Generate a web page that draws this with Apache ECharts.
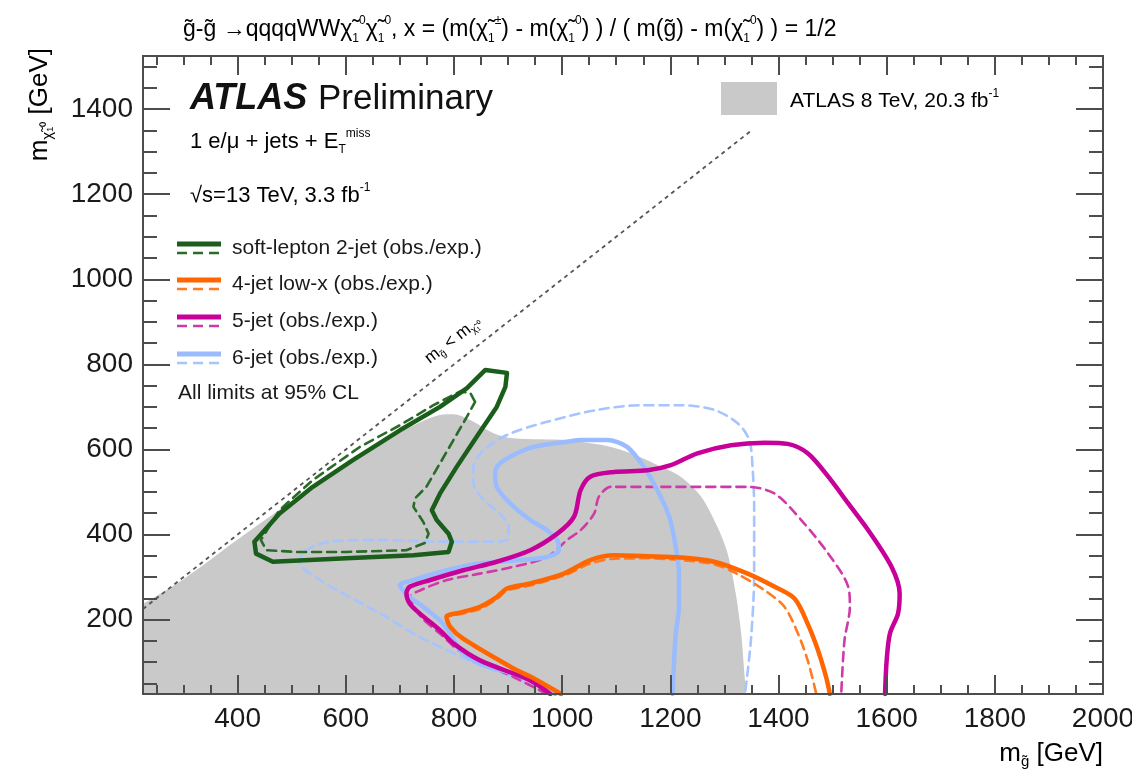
<!DOCTYPE html>
<html><head><meta charset="utf-8">
<script src="https://cdn.jsdelivr.net/npm/echarts@6/dist/echarts.min.js"></script>
<style>html,body{margin:0;padding:0;background:#fff}#c{width:1132px;height:774px}</style>
</head><body><div id="c"></div>
<script>
// ---------- axis ranges and ticks ----------
const xRange = [225, 2000];
const yRange = [25, 1525];
const xMajorTicks = [400, 600, 800, 1000, 1200, 1400, 1600, 1800, 2000];
const yMajorTicks = [200, 400, 600, 800, 1000, 1200, 1400];
const xMinorTicks = [250, 300, 350, 450, 500, 550, 650, 700, 750, 850, 900, 950, 1050, 1100, 1150,
  1250, 1300, 1350, 1450, 1500, 1550, 1650, 1700, 1750, 1850, 1900, 1950];
const yMinorTicks = [50, 100, 150, 250, 300, 350, 450, 500, 550, 650, 700, 750, 850, 900, 950,
  1050, 1100, 1150, 1250, 1300, 1350, 1450, 1500];

// ---------- data (m_gluino, m_neutralino) in GeV ----------
const kinematicLine = [[225, 225], [1350, 1350]];
const atlas8Boundary = [[225, 237], [300, 295], [400, 388], [500, 478], [600, 563], [700, 640], [774, 681],
  [799, 683], [830, 669], [873, 638], [910, 626], [1009, 622], [1034, 618], [1083, 608], [1127, 591],
  [1170, 567], [1219, 536], [1257, 489], [1287, 418], [1306, 355], [1321, 261], [1331, 167], [1337, 73], [1340, 25]];
const greenObs = [[431, 383], [477, 449], [539, 512], [613, 575], [700, 645], [774, 700], [824, 744], [858, 787],
  [898, 780], [895, 747], [879, 700], [842, 630], [805, 559], [774, 496], [759, 457], [768, 434], [790, 402],
  [796, 383], [790, 359], [725, 351], [601, 344], [465, 336], [434, 355], [431, 383]];
const greenExp = [[839, 712], [830, 733], [811, 736], [762, 704], [700, 657], [626, 606], [539, 528], [477, 457],
  [443, 387], [453, 363], [508, 359], [601, 359], [712, 363], [746, 380], [753, 402], [743, 430], [725, 465],
  [728, 485], [749, 512], [774, 567], [799, 622], [824, 677], [839, 712]];
const orangeObs = [[998, 25], [941, 66], [910, 85], [817, 155], [793, 183], [786, 206], [817, 218], [848, 230],
  [879, 253], [898, 273], [941, 285], [1003, 308], [1052, 340], [1096, 351], [1158, 349], [1219, 346],
  [1281, 336], [1343, 308], [1393, 277], [1430, 249], [1454, 190], [1473, 128], [1488, 65], [1495, 25]];
const orangeExp = [[995, 25], [941, 63], [910, 83], [817, 153], [793, 182], [786, 204], [817, 214], [848, 225],
  [879, 248], [898, 268], [941, 280], [1009, 306], [1052, 332], [1096, 343], [1158, 344], [1219, 340],
  [1281, 330], [1320, 310], [1374, 269], [1411, 230], [1436, 167], [1454, 104], [1470, 25]];
const magentaObs = [[978, 25], [941, 57], [848, 104], [799, 144], [774, 175], [737, 214], [718, 238], [712, 261],
  [718, 277], [756, 293], [817, 316], [879, 336], [941, 363], [991, 402], [1022, 442], [1034, 504], [1052, 536],
  [1096, 547], [1158, 551], [1201, 563], [1250, 591], [1312, 610], [1374, 616], [1417, 613], [1454, 591],
  [1492, 536], [1529, 473], [1566, 410], [1609, 324], [1624, 261], [1621, 214], [1606, 167], [1600, 104], [1597, 25]];
const magentaExp = [[972, 25], [910, 65], [817, 120], [774, 167], [740, 205], [722, 240], [718, 253], [740, 270],
  [787, 293], [848, 308], [910, 324], [972, 347], [1009, 387], [1034, 410], [1059, 449], [1068, 489], [1090, 512],
  [1158, 512], [1250, 512], [1343, 512], [1393, 496], [1442, 434], [1492, 355], [1529, 277], [1532, 230],
  [1522, 151], [1516, 25]];
const blueObs = [[987, 25], [929, 65], [848, 96], [811, 128], [793, 167], [774, 198], [743, 230], [718, 253],
  [703, 273], [700, 281], [725, 293], [787, 316], [848, 332], [923, 340], [972, 347], [994, 363], [991, 387],
  [972, 410], [941, 434], [904, 473], [879, 512], [876, 544], [885, 567], [910, 587], [947, 606], [1009, 618],
  [1034, 622], [1083, 622], [1120, 606], [1151, 559], [1176, 504], [1198, 442], [1210, 371], [1216, 308],
  [1216, 230], [1210, 167], [1207, 104], [1204, 25]];
const blueExp = [[980, 25], [960, 42], [910, 65], [848, 93], [787, 128], [725, 167], [675, 206], [613, 249],
  [552, 293], [514, 336], [527, 363], [570, 383], [663, 387], [787, 383], [873, 383], [901, 391], [901, 418],
  [885, 449], [855, 481], [836, 520], [836, 559], [855, 598], [898, 634], [972, 665], [1065, 693], [1145, 704],
  [1219, 704], [1281, 693], [1325, 661], [1346, 622], [1352, 559], [1355, 465], [1355, 308], [1349, 151], [1338, 25]];

// ---------- styling ----------
const FONT = '"Liberation Sans", Arial, Helvetica, sans-serif';
const FRAME = '#4d4d4d';
const TXT = '#1a1a1a';
const C = {
  green: '#1b5e1b', greenD: '#2a6b2a',
  orange: '#ff6600', orangeD: '#ff7a22',
  magenta: '#c8009a', magentaD: '#d03aa8',
  blue: '#9abcff', blueD: '#a6c4ff',
  gray: '#c9c9c9'
};
const DASH = [9, 6];
const plain = v => String(v);

function xAx(gridIndex, pos, ticks, len, labels) {
  return {
    type: 'value', gridIndex, position: pos, min: xRange[0], max: xRange[1], z: 10,
    axisLine: { show: true, onZero: false, lineStyle: { color: FRAME, width: 2 } },
    axisTick: { show: true, inside: true, length: len, customValues: ticks, lineStyle: { color: FRAME, width: 2 } },
    axisLabel: { show: labels, customValues: xMajorTicks, formatter: plain, color: TXT, fontSize: 28, fontFamily: FONT, margin: 11, showMaxLabel: true, showMinLabel: true },
    splitLine: { show: false }, minorTick: { show: false }, axisPointer: { show: false }
  };
}
function yAx(gridIndex, pos, ticks, len, labels) {
  return {
    type: 'value', gridIndex, position: pos, min: yRange[0], max: yRange[1], z: 10,
    axisLine: { show: true, onZero: false, lineStyle: { color: FRAME, width: 2 } },
    axisTick: { show: true, inside: true, length: len, customValues: ticks, lineStyle: { color: FRAME, width: 2 } },
    axisLabel: { show: labels, customValues: yMajorTicks, formatter: plain, color: TXT, fontSize: 28, fontFamily: FONT, margin: 10 },
    splitLine: { show: false }, minorTick: { show: false }, axisPointer: { show: false }
  };
}

function contour(name, data, color, dashed, smooth) {
  return {
    name, type: 'line', data, xAxisIndex: 0, yAxisIndex: 0, symbol: 'none', showSymbol: false,
    smooth: smooth, clip: true, z: dashed ? 3 : 4, silent: true,
    lineStyle: { color, width: dashed ? 2.6 : 4.5, type: dashed ? DASH : 'solid', cap: 'round', join: 'round' }
  };
}

const chart = echarts.init(document.getElementById('c'), null, { renderer: 'canvas' });

const gridBox = { left: 143, right: 29, top: 56, bottom: 80, outerBoundsMode: 'none', containLabel: false };

const legendRows = [
  { label: 'soft-lepton 2-jet (obs./exp.)', solid: C.green, dash: C.greenD, y: 248 },
  { label: '4-jet low-x (obs./exp.)', solid: C.orange, dash: C.orangeD, y: 284 },
  { label: '5-jet (obs./exp.)', solid: C.magenta, dash: C.magentaD, y: 321 },
  { label: '6-jet (obs./exp.)', solid: C.blue, dash: C.blueD, y: 358 }
];
const graphics = [];
legendRows.forEach(r => {
  graphics.push({ type: 'line', z: 20, shape: { x1: 177, y1: r.y - 4, x2: 221, y2: r.y - 4 }, style: { stroke: r.solid, lineWidth: 5 } });
  graphics.push({ type: 'line', z: 20, shape: { x1: 177, y1: r.y + 5, x2: 221, y2: r.y + 5 }, style: { stroke: r.dash, lineWidth: 2.5, lineDash: [10, 6] } });
  graphics.push({ type: 'text', z: 20, x: 232, y: r.y, style: { text: r.label, font: '21px ' + FONT, fill: TXT, align: 'left', verticalAlign: 'middle' } });
});
graphics.push({ type: 'text', z: 20, x: 178, y: 393, style: { text: 'All limits at 95% CL', font: '21px ' + FONT, fill: TXT, align: 'left', verticalAlign: 'middle' } });

// ATLAS label
graphics.push({ type: 'text', z: 20, x: 190, y: 99, style: { text: 'ATLAS', font: 'italic bold 36px ' + FONT, fill: '#111', align: 'left', verticalAlign: 'middle' } });
graphics.push({ type: 'text', z: 20, x: 318, y: 99, style: { text: 'Preliminary', font: '35px ' + FONT, fill: '#111', align: 'left', verticalAlign: 'middle' } });
const rich = {
  n: { fontSize: 22, fontFamily: FONT, color: TXT, lineHeight: 28 },
  sb: { fontSize: 12, fontFamily: FONT, color: TXT, lineHeight: 14, verticalAlign: 'bottom' },
  sp: { fontSize: 12, fontFamily: FONT, color: TXT, lineHeight: 14, verticalAlign: 'top' }
};
graphics.push({ type: 'text', z: 20, x: 190, y: 142, style: { text: '{n|1 e/\u03bc + jets + E}{sb|T}{sp|miss}', rich, align: 'left', verticalAlign: 'middle' } });
graphics.push({ type: 'text', z: 20, x: 190, y: 196, style: { text: '{n|\u221As=13 TeV, 3.3 fb}{sp|-1}', rich, align: 'left', verticalAlign: 'middle' } });

// top-right legend
graphics.push({ type: 'rect', z: 20, shape: { x: 721, y: 82, width: 56, height: 33 }, style: { fill: C.gray } });
const rich21 = {
  n: { fontSize: 21, fontFamily: FONT, color: TXT, lineHeight: 26 },
  sp: { fontSize: 12, fontFamily: FONT, color: TXT, lineHeight: 14, verticalAlign: 'top' }
};
graphics.push({ type: 'text', z: 20, x: 790, y: 101, style: { text: '{n|ATLAS 8 TeV, 20.3 fb}{sp|-1}', rich: rich21, align: 'left', verticalAlign: 'middle' } });

// title
const richT = {
  n: { fontSize: 23, fontFamily: FONT, color: TXT, lineHeight: 30 },
  sb: { fontSize: 12, fontFamily: FONT, color: TXT, lineHeight: 14, verticalAlign: 'bottom' },
  sp: { fontSize: 12, fontFamily: FONT, color: TXT, lineHeight: 14, verticalAlign: 'top' }
};
graphics.push({ type: 'text', z: 20, x: 183, y: 30, style: {
  text: '{n|g\u0303-g\u0303 \u2192qqqqWW\u03c7\u0303}{sb|1}{sp|0}{n|\u03c7\u0303}{sb|1}{sp|0}{n|, x = (m(\u03c7\u0303}{sb|1}{sp|\u00b1}{n|) - m(\u03c7\u0303}{sb|1}{sp|0}{n|) ) / ( m(g\u0303) - m(\u03c7\u0303}{sb|1}{sp|0}{n|) ) = 1/2}',
  rich: richT, align: 'left', verticalAlign: 'middle' } });

// axis titles
const richA = {
  n: { fontSize: 26, fontFamily: FONT, color: TXT, lineHeight: 30 },
  sb: { fontSize: 15, fontFamily: FONT, color: TXT, lineHeight: 16, verticalAlign: 'bottom' },
  sp: { fontSize: 11, fontFamily: FONT, color: TXT, lineHeight: 14, verticalAlign: 'top' }
};
graphics.push({ type: 'text', z: 20, x: 1103, y: 754, style: { text: '{n|m}{sb|g\u0303}{n| [GeV]}', rich: richA, align: 'right', verticalAlign: 'middle' } });
graphics.push({ type: 'text', z: 20, x: 40, y: 48, rotation: Math.PI / 2, style: { text: '{n|m}{sb|\u03c7\u0303\u2081\u2070}{n| [GeV]}', rich: richA, align: 'right', verticalAlign: 'middle' } });

// diagonal label
const richD = {
  n: { fontSize: 17, fontFamily: FONT, color: '#444', lineHeight: 20 },
  sb: { fontSize: 10, fontFamily: FONT, color: '#444', lineHeight: 11, verticalAlign: 'bottom' }
};
graphics.push({ type: 'text', z: 20, x: 453, y: 340, rotation: 0.66, style: { text: '{n|m}{sb|g\u0303}{n| < m}{sb|\u03c7\u0303\u2081\u2070}', rich: richD, align: 'center', verticalAlign: 'middle' } });

chart.setOption({
  animation: false,
  backgroundColor: '#ffffff',
  grid: [Object.assign({}, gridBox), Object.assign({}, gridBox)],
  xAxis: [
    xAx(0, 'bottom', xMajorTicks, 19, true),
    xAx(0, 'top', xMajorTicks, 19, false),
    xAx(1, 'bottom', xMinorTicks, 9, false),
    xAx(1, 'top', xMinorTicks, 9, false)
  ],
  yAxis: [
    yAx(0, 'left', yMajorTicks, 27, true),
    yAx(0, 'right', yMajorTicks, 27, false),
    yAx(1, 'left', yMinorTicks, 14, false),
    yAx(1, 'right', yMinorTicks, 14, false)
  ],
  series: [
    {
      name: 'ATLAS 8 TeV', type: 'line', data: atlas8Boundary, xAxisIndex: 0, yAxisIndex: 0, symbol: 'none',
      z: 1, silent: true, smooth: 0.3, lineStyle: { width: 0 },
      areaStyle: { color: C.gray, opacity: 1, origin: 'start' }
    },
    {
      name: 'kinematic', type: 'line', data: kinematicLine, xAxisIndex: 0, yAxisIndex: 0, symbol: 'none', z: 2, silent: true,
      lineStyle: { color: '#555', width: 1.8, type: [4, 4] }
    },
    contour('6-jet exp', blueExp, C.blueD, true, 0.3),
    contour('6-jet obs', blueObs, C.blue, false, 0.3),
    contour('5-jet exp', magentaExp, C.magentaD, true, 0.3),
    contour('5-jet obs', magentaObs, C.magenta, false, 0.3),
    contour('4-jet exp', orangeExp, C.orangeD, true, 0.3),
    contour('4-jet obs', orangeObs, C.orange, false, 0.3),
    contour('soft-lepton exp', greenExp, C.greenD, true, false),
    contour('soft-lepton obs', greenObs, C.green, false, false)
  ],
  graphic: { elements: graphics }
});
</script></body></html>
